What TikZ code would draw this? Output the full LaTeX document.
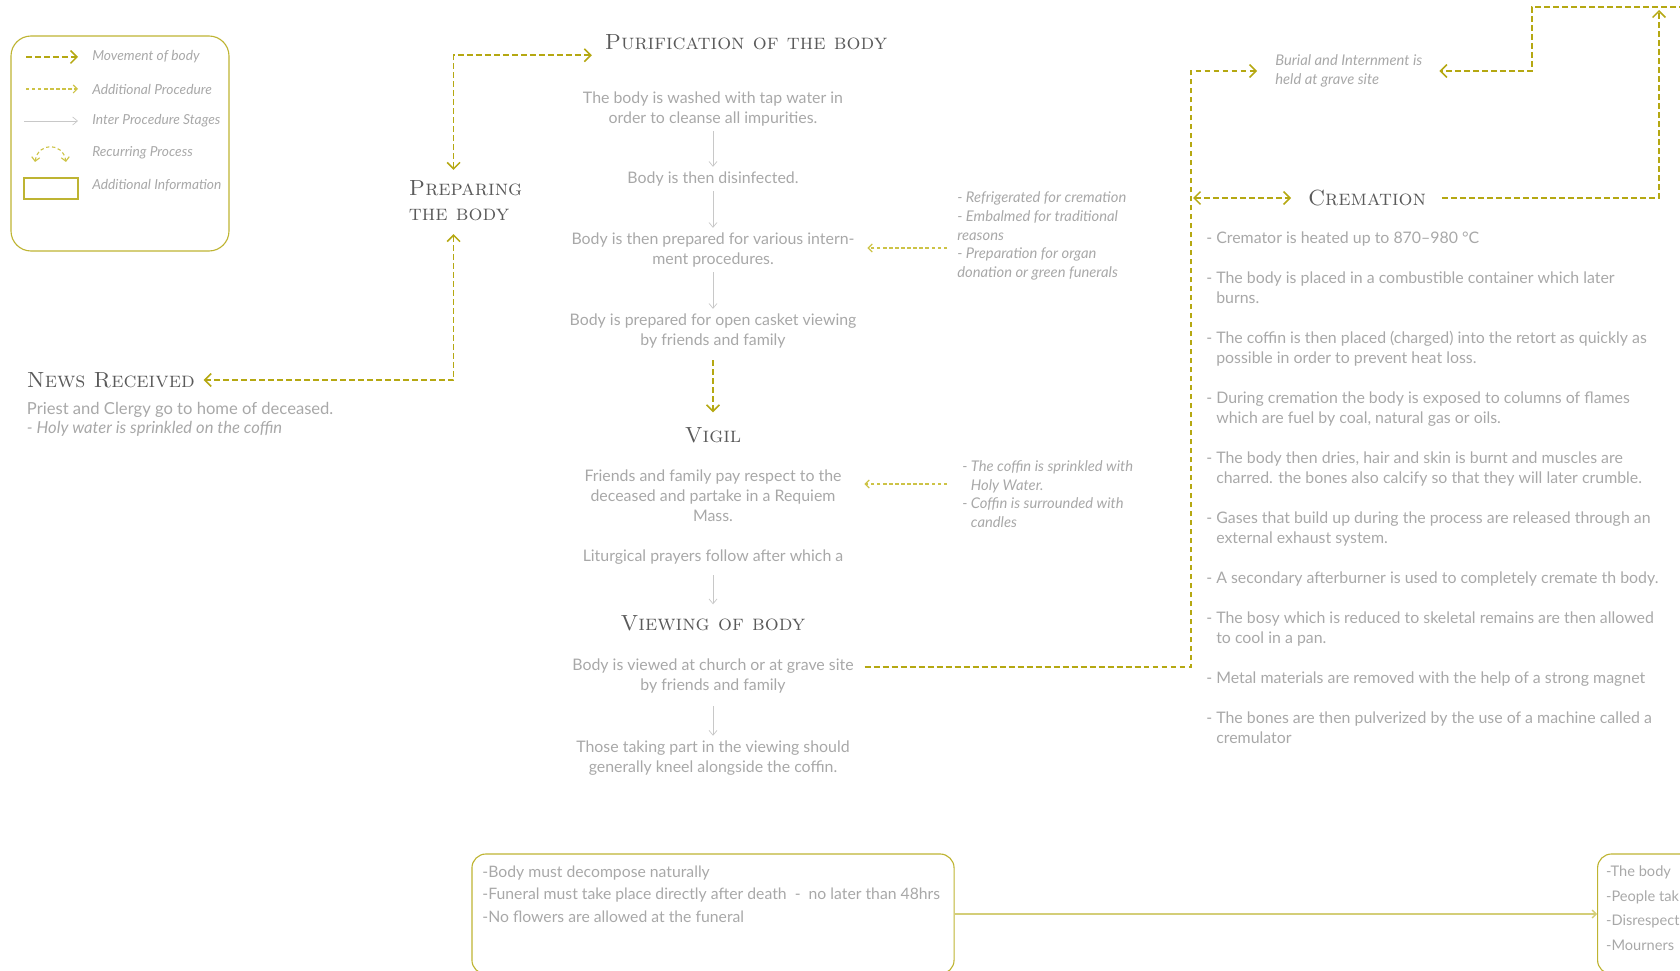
\documentclass[tikz,border=0pt]{standalone}
\usepackage{fontspec}
\setsansfont{Lato}
\usetikzlibrary{arrows.meta}

\definecolor{oliveDark}{RGB}{181,168,18}
\definecolor{oliveLight}{RGB}{205,195,70}
\definecolor{boxLine}{RGB}{190,180,50}
\definecolor{linkLine}{RGB}{212,206,120}
\definecolor{textGrey}{RGB}{168,168,168}
\definecolor{headGrey}{RGB}{90,90,90}
\definecolor{arrowGrey}{RGB}{200,200,200}

\begin{document}
\begin{tikzpicture}[x=0.025cm, y=-0.025cm]
    \tikzstyle{moveArrow}=[draw=oliveDark, line width=1.1pt, dash pattern=on 4.2pt off 2.2pt, >={Straight Barb[length=1.6mm,width=3.2mm]}]
    \tikzstyle{addArrow}=[draw=oliveLight, line width=0.8pt, dash pattern=on 2.4pt off 1.9pt, >={Straight Barb[length=1mm,width=2mm]}]
    \tikzstyle{interArrow}=[draw=arrowGrey, line width=0.5pt, >={Straight Barb[length=1.2mm,width=2mm]}]
    \tikzstyle{linkArrow}=[draw=linkLine, line width=0.9pt, >={Straight Barb[length=1mm,width=2mm]}]
    \tikzstyle{infoBox}=[draw=boxLine, line width=0.8pt, rounded corners=0.35cm]
    \tikzstyle{headText}=[text=headGrey, font=\rmfamily\scshape\fontsize{15.6}{17.8}\selectfont]
    \tikzstyle{bodyText}=[text=textGrey, align=center, font=\sffamily\fontsize{11.3}{14.2}\selectfont]
    \tikzstyle{noteText}=[text=textGrey, align=left, anchor=west, inner sep=0, font=\sffamily\itshape\fontsize{10.5}{13.2}\selectfont]
    \tikzstyle{legendText}=[text=textGrey, anchor=west, inner sep=0, font=\sffamily\itshape\fontsize{9.8}{11}\selectfont]
    \tikzstyle{boxText}=[text=textGrey, align=left, anchor=north west, inner sep=0, font=\sffamily\fontsize{11.2}{16}\selectfont]

    \useasboundingbox (0,0) rectangle (1680,971);
    \clip (0,0) rectangle (1680,971);

    % legend
    \draw[infoBox, rounded corners=0.5cm] (11,36) rectangle (229,251);
    \draw[moveArrow,->] (26,57) -- (78,57);
    \draw[addArrow,->] (26,89) -- (78,89);
    \draw[interArrow,->] (24,121) -- (78,121);
    \draw[addArrow,<->] (35,162) .. controls (38,142) and (63,142) .. (66,162);
    \draw[draw=boxLine, line width=0.8pt] (24,178) rectangle (78,199);
    \node[legendText] (lgMove) at (92,57) {Movement of body};
    \node[legendText] (lgAdd) at (92,89) {Additional Procedure};
    \node[legendText] (lgInter) at (92,121) {Inter Procedure Stages};
    \node[legendText] (lgRecur) at (92,153) {Recurring Process};
    \node[legendText] (lgInfo) at (92,185) {Additional Information};

    % news and preparing
    \node[headText, anchor=west] (news) at (22,380) {News Received};
    \node[text=textGrey, align=left, anchor=north west, font=\sffamily\fontsize{11.8}{13.8}\selectfont] (newsTxt) at (22,397) {Priest and Clergy go to home of deceased.\\\textit{- Holy water is sprinkled on the coffin}};
    \node[headText, anchor=west, align=left] (prep) at (404,201) {Preparing\\the body};

    % purification
    \node[headText] (purif) at (746,42) {Purification of the body};
    \node[bodyText] (p1) at (713,109) {The body is washed with tap water in\\order to cleanse all impurities.};
    \node[bodyText] (p2) at (713,179) {Body is then disinfected.};
    \node[bodyText] (p3) at (713,250) {Body is then prepared for various intern-\\ment procedures.};
    \node[bodyText] (p4) at (713,331) {Body is prepared for open casket viewing\\by friends and family};
    \node[noteText] (note1) at (957,236) {- Refrigerated for cremation\\- Embalmed for traditional\\reasons\\- Preparation for organ\\donation or green funerals};

    % vigil
    \node[headText] (vigil) at (713,435) {Vigil};
    \node[bodyText] (v1) at (713,496) {Friends and family pay respect to the\\deceased and partake in a Requiem\\Mass.};
    \node[bodyText] (v2) at (713,557) {Liturgical prayers follow after which a};
    \node[noteText] (note2) at (962,494) {- The coffin is sprinkled with\\\phantom{- }Holy Water.\\- Coffin is surrounded with\\\phantom{- }candles};

    % viewing
    \node[headText] (viewing) at (713,623) {Viewing of body};
    \node[bodyText] (w1) at (713,676) {Body is viewed at church or at grave site\\by friends and family};
    \node[bodyText] (w2) at (713,758) {Those taking part in the viewing should\\generally kneel alongside the coffin.};

    % burial and cremation
    \node[noteText] (burial) at (1275,71) {Burial and Internment is\\held at grave site};
    \node[headText] (crem) at (1367,198) {Cremation};
    \node[bodyText, align=left, anchor=north west, inner sep=0] (cremList) at (1206,232) {- Cremator is heated up to 870–980 °C\\[14.2pt]
      - The body is placed in a combustible container which later\\\phantom{- }burns.\\[14.2pt]
      - The coffin is then placed (charged) into the retort as quickly as\\\phantom{- }possible in order to prevent heat loss.\\[14.2pt]
      - During cremation the body is exposed to columns of flames\\\phantom{- }which are fuel by coal, natural gas or oils.\\[14.2pt]
      - The body then dries, hair and skin is burnt and muscles are\\\phantom{- }charred. the bones also calcify so that they will later crumble.\\[14.2pt]
      - Gases that build up during the process are released through an\\\phantom{- }external exhaust system.\\[14.2pt]
      - A secondary afterburner is used to completely cremate th body.\\[14.2pt]
      - The bosy which is reduced to skeletal remains are then allowed\\\phantom{- }to cool in a pan.\\[14.2pt]
      - Metal materials are removed with the help of a strong magnet\\[14.2pt]
      - The bones are then pulverized by the use of a machine called a\\\phantom{- }cremulator};

    % additional information
    \node[infoBox, minimum width=12.05cm, minimum height=3cm] (box1) at (713,914) {};
    \node[boxText] (box1Txt) at ([shift={(0.27cm,-0.3cm)}]box1.north west) {-Body must decompose naturally\\-Funeral must take place directly after death\ \ -\ \ no later than 48hrs\\-No flowers are allowed at the funeral};
    \node[infoBox, minimum width=12cm, minimum height=3cm, anchor=west] (box2) at (1597,914) {};
    \node[boxText, font=\sffamily\fontsize{10.4}{17.5}\selectfont] (box2Txt) at ([shift={(0.22cm,-0.3cm)}]box2.north west) {-The body\\-People tak\\-Disrespect\\-Mourners};

    % inter procedure stages
    \draw[interArrow,->] (p1) -- (p2);
    \draw[interArrow,->] (p2) -- (p3);
    \draw[interArrow,->] (p3) -- (p4);
    \draw[interArrow,->, shorten <=1.5mm, shorten >=1.5mm] (v2) -- (viewing);
    \draw[interArrow,->, shorten <=2mm] (w1) -- (w2);
    \draw[linkArrow,->] (box1) -- (box2);

    % movement of body
    \draw[moveArrow,<->, shorten <=0.15cm, shorten >=0.2cm] ([xshift=-0.3cm]prep.north) |- ([yshift=-0.33cm]purif.west);
    \draw[moveArrow,<->, shorten <=0.2cm, shorten >=0.1cm] ([xshift=-0.3cm]prep.south) |- (news.east);
    \draw[moveArrow,->, shorten <=0.18cm, shorten >=0.25cm] (p4) -- (vigil);
    \coordinate (rail) at (1191,0);
    \draw[moveArrow,->, shorten <=0.15cm, shorten >=0.45cm] ([yshift=0.225cm]w1.east) -| (rail |- burial.west) -- (burial.west);
    \draw[moveArrow,<->, shorten <=0.05cm, shorten >=0.3cm] (rail |- crem.west) -- (crem.west);
    \coordinate (topTurn) at (1659,10);
    \draw[moveArrow,->, shorten <=0.27cm] (crem.east) -| (topTurn);
    \coordinate (topEdge) at (1685,7);
    \coordinate (topKnee) at (1532,7);
    \draw[moveArrow,->, shorten >=0.42cm] (topEdge) -- (topKnee) |- (burial.east);

    % additional procedures
    \coordinate (n1) at ([shift={(-0.25cm,-0.3cm)}]note1.west);
    \draw[addArrow,->, shorten >=0.2cm] (n1) -- (n1 -| p3.east);
    \coordinate (n2) at ([shift={(-0.375cm,0.25cm)}]note2.west);
    \draw[addArrow,->, shorten >=0.45cm] (n2) -- (n2 -| v1.east);
\end{tikzpicture}
\end{document}
